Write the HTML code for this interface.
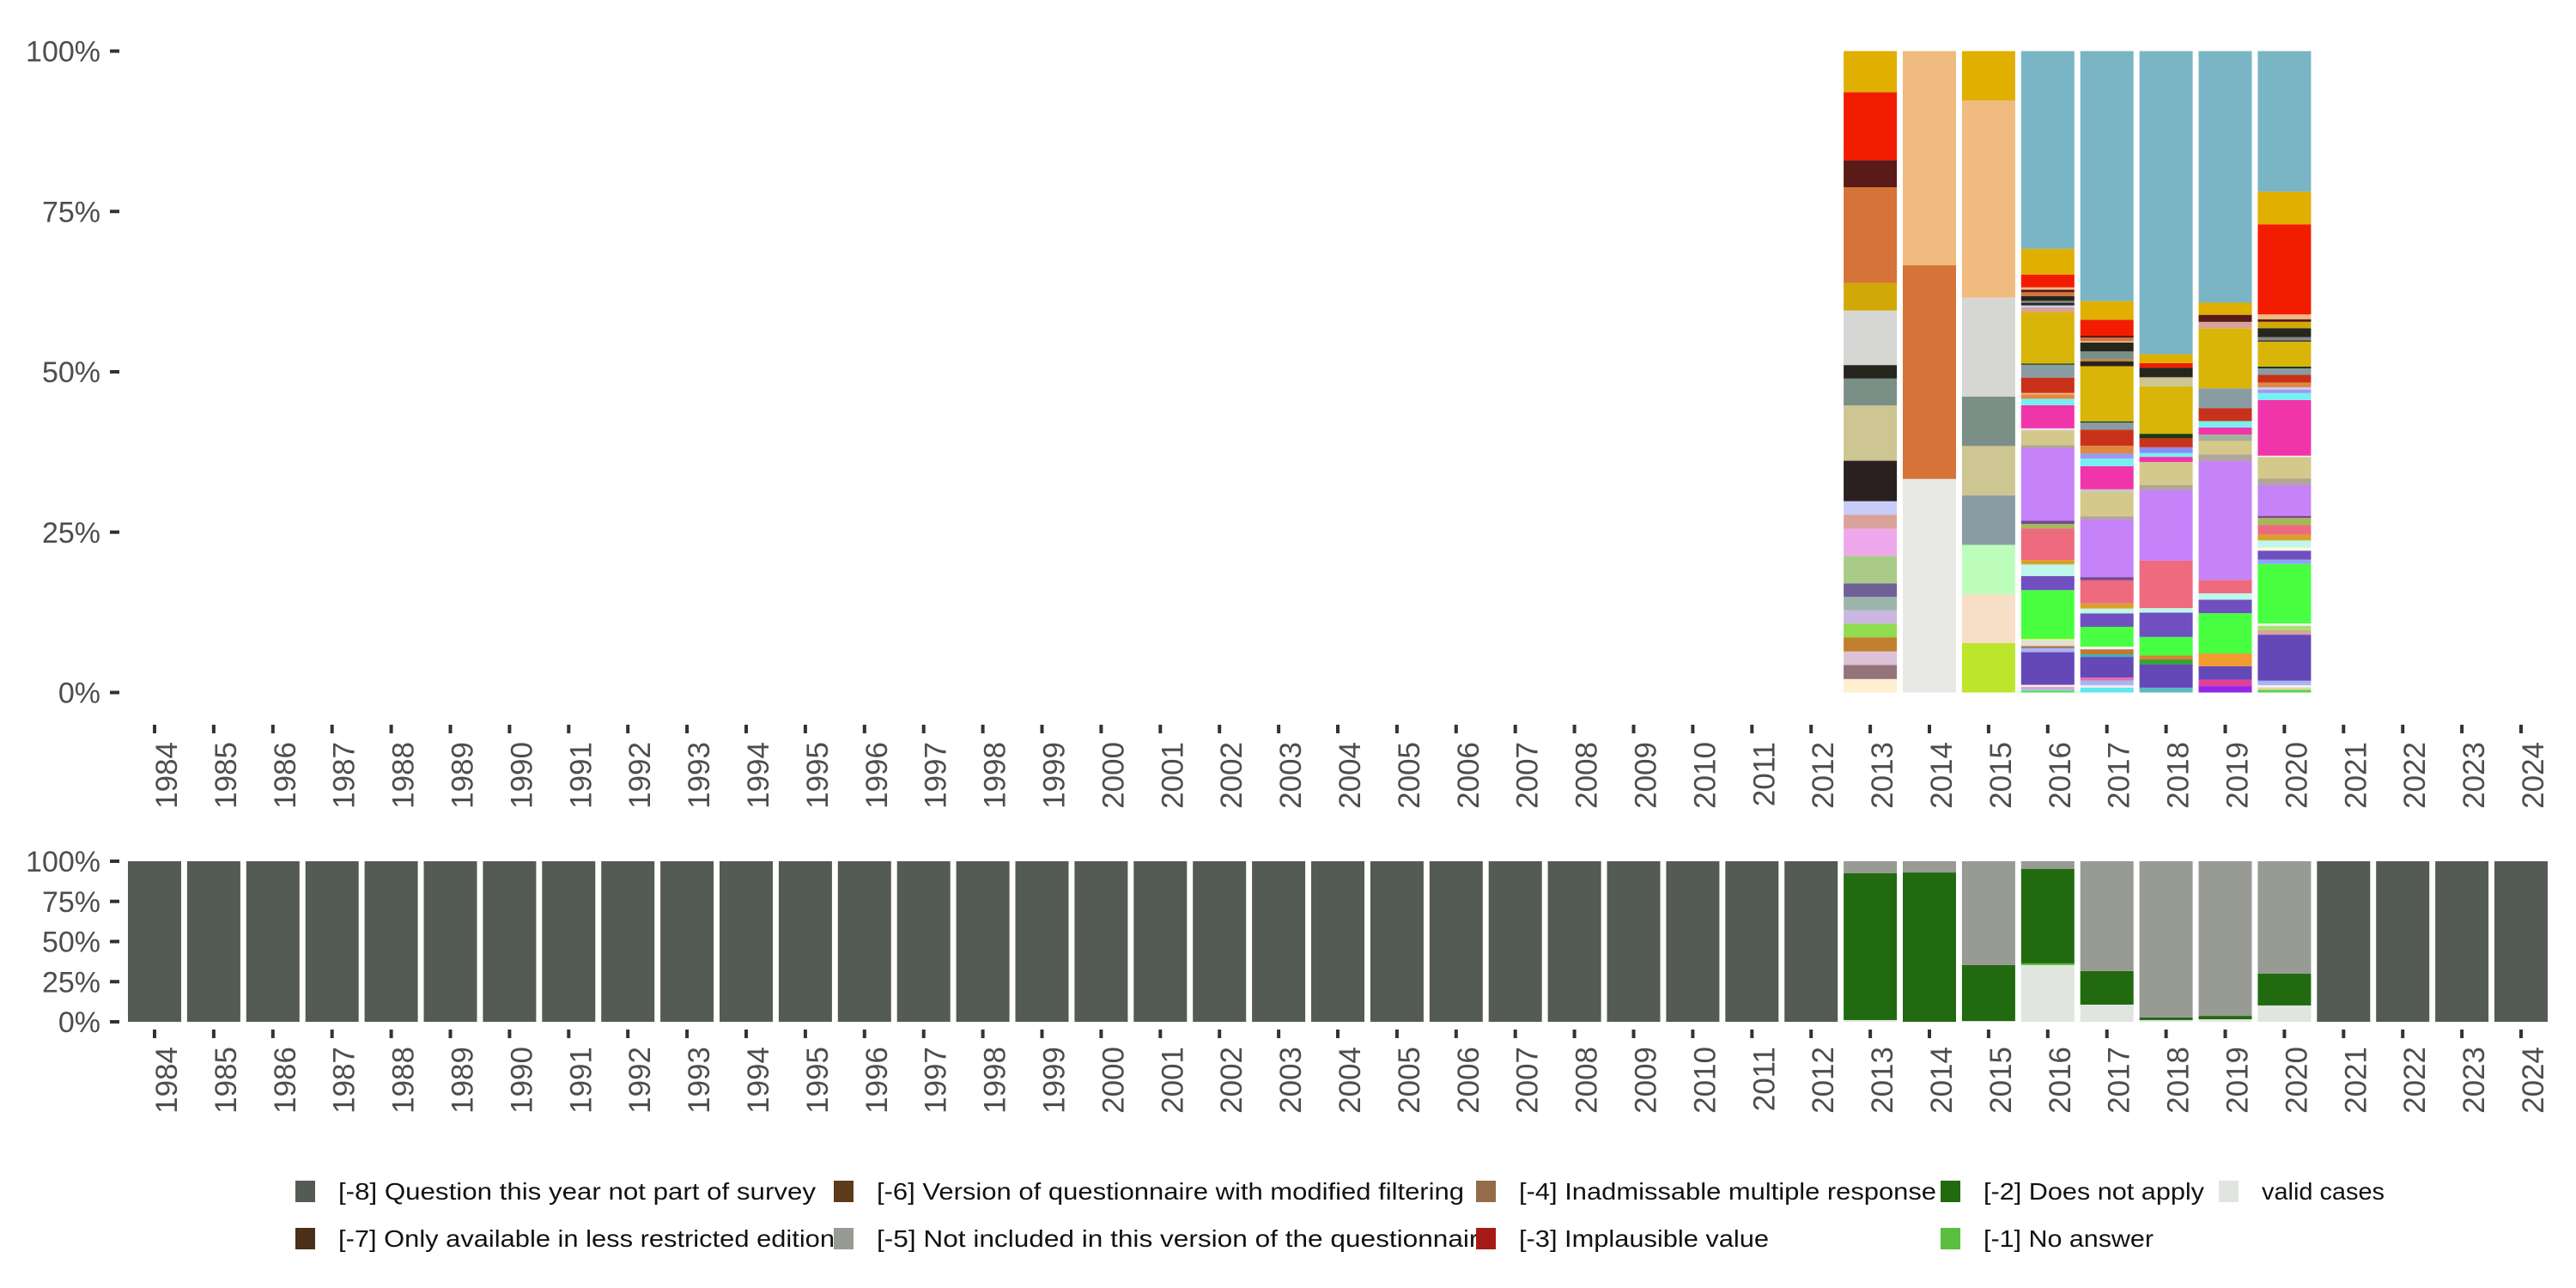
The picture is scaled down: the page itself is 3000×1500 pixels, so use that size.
<!DOCTYPE html>
<html><head><meta charset="utf-8"><title>Chart</title>
<style>html,body{margin:0;padding:0;background:#fff}svg{display:block}text{font-family:"Liberation Sans",sans-serif}</style>
</head><body>
<svg id="chart" width="3000" height="1500" viewBox="0 0 3000 1500" xmlns="http://www.w3.org/2000/svg">
<g id="top"></g>
<g id="bottom"></g>
<g id="legend"></g>
</svg>
<script>
const years = [];
for (let y = 1984; y <= 2024; y++) years.push(y);
const yTickLabels = ["0%", "25%", "50%", "75%", "100%"];
const yTickValues = [0, 25, 50, 75, 100];

const topYears = [2013, 2014, 2015, 2016, 2017, 2018, 2019, 2020];
// values bottom-to-top (percent)
const vals2013 = [2.1,2.2,2.1,2.2,2.1,2.1,2.1,2.1,4.3,4.2,2.2,2.1,6.3,8.6,4.2,2.1,8.5,4.3,14.9,4.2,10.6,6.4];
const cols2013 = ["#feefd1","#95737a","#dbc2d6","#c1802e","#91db50","#cbb8e2","#9bb5aa","#6f6096","#a9cb87","#eea8eb","#d9a39a","#c7cdf8","#2a2020","#cdc592","#7a8f86","#25271e","#d6d6d4","#d2a806","#d67338","#5a1a18","#f21d00","#e0af00"];
const vals2014 = [33.3,33.3,33.4];
const cols2014 = ["#e8e9e4","#d67338","#f0bb7f"];
const vals2015 = [7.7,7.6,7.7,7.7,7.7,7.7,15.4,30.7,7.7];
const cols2015 = ["#bde52c","#f7dec7","#bdfdbb","#899ca3","#cdc592","#7a8f86","#d6d6d4","#f0bb7f","#e0af00"];
const vals2016 = [0.3,0.3,0.3,0.3,5.1,0.6,0.35,0.9,0.2,7.6,2.2,1.8,0.7,4.9,0.7,0.5,11.3,0.5,2.3,0.3,3.6,1.0,0.7,0.2,2.4,2.0,0.2,8.0,0.75,0.3,0.4,0.3,0.75,0.6,0.4,0.35,2.0,4.0,30.8];
const cols2016 = ["#4be04a","#b0b8f0","#e8a0c0","#f0f0f0","#6548b8","#a5b5f5","#b07050","#e0e0d8","#f0f060","#48ff42","#704fc0","#bff7ea","#d9a02a","#ee6a7e","#a4b85a","#7a4a8c","#c582f9","#b0a596","#d4c98a","#e8e0f8","#f035aa","#77eef2","#e08840","#f0bb7f","#c9321a","#899ca3","#1a3a10","#d9b509","#d9a39a","#c7cdf8","#25271e","#888888","#25271e","#d67338","#5a1a18","#f0bb7f","#f21d00","#e0af00","#7ab5c5"];
const vals2017 = [0.75,0.4,0.7,0.5,3.2,0.4,0.8,0.4,3.1,2.1,0.75,0.8,3.6,0.5,9.0,0.5,3.7,0.5,3.6,1.2,0.8,1.2,2.5,1.1,0.2,8.6,0.75,0.35,1.2,1.4,0.2,0.55,0.3,2.5,2.9,39.0];
const cols2017 = ["#5ee8f0","#f0e8f0","#a5b5f5","#e070b0","#6548b8","#40b0b0","#c07838","#f4f4f4","#48ff42","#704fc0","#bff7ea","#d9a02a","#ee6a7e","#7a4a8c","#c582f9","#b0a596","#d4c98a","#c8c8c0","#f035aa","#77eef2","#9a9af0","#e08840","#c9321a","#899ca3","#1a3a10","#d9b509","#2a2020","#c1802e","#7a8f86","#25271e","#f0bb7f","#d67338","#5a1a18","#f21d00","#e0af00","#7ab5c5"];
const vals2018 = [0.75,3.6,0.8,0.6,2.9,3.8,0.7,7.4,11.0,0.75,3.6,0.8,0.6,0.9,1.4,0.7,7.4,1.4,1.5,0.7,1.4,47.2];
const cols2018 = ["#5abcc0","#6548b8","#3ca03a","#e08030","#48ff42","#704fc0","#bff7ea","#ee6a7e","#c582f9","#b0a596","#d4c98a","#f035aa","#77eef2","#8b8ef0","#c9321a","#1a3a10","#d9b509","#cdc592","#25271e","#f21d00","#e0af00","#7ab5c5"];
const vals2019 = [1.0,1.0,2.1,2.0,6.3,2.1,1.0,2.1,18.6,1.0,2.1,1.0,1.1,1.0,2.0,3.1,9.4,1.0,1.1,1.9,39.3];
const cols2019 = ["#9526e8","#e0409a","#6548b8","#f09a30","#48ff42","#704fc0","#bff7ea","#ee6a7e","#c582f9","#b0a596","#d4c98a","#a3b09b","#f035aa","#77eef2","#c9321a","#899ca3","#d9b509","#d9a39a","#5a1a18","#e0af00","#7ab5c5"];
const vals2020 = [0.4,0.4,0.35,0.7,7.2,0.7,0.7,0.35,9.3,0.7,1.4,0.5,1.1,0.9,1.5,1.1,0.35,4.8,1.0,3.4,0.2,8.7,1.1,0.55,0.35,0.75,1.2,1.0,0.3,3.9,0.2,0.5,1.4,1.0,0.4,0.75,14.1,5.1,22.0];
const cols2020 = ["#5cd04a","#e0d8a0","#f4f4f4","#a5b5f5","#6548b8","#d9a39a","#a8e070","#f4f4f4","#48ff42","#8fa5f5","#704fc0","#fdf6d8","#bff7ea","#d9a02a","#ee6a7e","#a4b85a","#7a4a8c","#c582f9","#b0a596","#d4c98a","#f4f4f4","#f035aa","#77eef2","#9a9af0","#c7cdf8","#e08840","#c9321a","#899ca3","#1a3a10","#d9b509","#25271e","#888888","#25271e","#d2a806","#5a1a18","#f0bb7f","#f21d00","#e0af00","#7ab5c5"];
const topVals = [vals2013, vals2014, vals2015, vals2016, vals2017, vals2018, vals2019, vals2020];
const topCols = [cols2013, cols2014, cols2015, cols2016, cols2017, cols2018, cols2019, cols2020];

// bottom panel: categories bottom-to-top: valid, [-1], [-2], [-5], [-8]
const bottomCats = ["valid cases", "[-1] No answer", "[-2] Does not apply", "[-5] Not included", "[-8] Not part of survey"];
const bottomColors = ["#e1e5e0", "#5abf3e", "#226a10", "#979b94", "#545b55"];
const specialYears = [2013, 2014, 2015, 2016, 2017, 2018, 2019, 2020];
const validVals = [1.1, 0, 0.5, 35.3, 10.7, 1.1, 1.6, 10.2];
const noAnswerVals = [0, 0, 0, 1.1, 0, 0, 0, 0];
const notApplyVals = [91.4, 93.0, 34.8, 58.8, 20.9, 1.6, 2.1, 19.8];
const notIncludedVals = [7.5, 7.0, 64.7, 4.8, 68.4, 97.3, 96.3, 70.1];

const legendLabels = ["[-8] Question this year not part of survey","[-6] Version of questionnaire with modified filtering","[-4] Inadmissable multiple response","[-2] Does not apply","valid cases","[-7] Only available in less restricted edition","[-5] Not included in this version of the questionnaire","[-3] Implausible value","[-1] No answer"];
const legendColors = ["#545b55","#5c3a1a","#946c4a","#226a10","#e1e5e0","#4a3018","#979b94","#a61b17","#5abf3e"];

const NS = "http://www.w3.org/2000/svg";
function mk(tag, attrs, parent) { const e = document.createElementNS(NS, tag); for (const k in attrs) e.setAttribute(k, attrs[k]); parent.appendChild(e); return e; }
const x0 = 180, pitch = 68.9, bw = 62;
function xScale(year) { return x0 + (year - 1984) * pitch; }
function yTop(v) { return 806.5 - v / 100 * 747; }
function yBot(v) { return 1190 - v / 100 * 187; }

function axes(g, yFn, tickY1, labelY) {
  yTickValues.forEach((v, i) => {
    const t = mk("rect", {x:128, y:yFn(v)-2, width:11, height:4, fill:"#333"}, g);
    
    
    const l = mk("text", {x:117, y:yFn(v)+12, "text-anchor":"end", "font-size":34, fill:"#4d4d4d"}, g);
    l.textContent = yTickLabels[i];
    
    
  });
  years.forEach(yr => {
    const x = xScale(yr);
    const t = mk("rect", {x:x-2, y:tickY1, width:4, height:10, fill:"#333"}, g);
    
    
    const l = mk("text", {x:0, y:0, "text-anchor":"end", "font-size":35, fill:"#4d4d4d", transform:`translate(${x+26},${labelY}) rotate(-90)`}, g);
    l.textContent = String(yr);
    
    
  });
}

const gTop = document.getElementById("top");
axes(gTop, yTop, 844, 864);
topYears.forEach((yr, i) => {
  const vals = topVals[i], cols = topCols[i];
  const total = vals.reduce((a, b) => a + b, 0);
  let acc = 0;
  vals.forEach((v, j) => {
    const p0 = acc / total * 100; acc += v; const p1 = acc / total * 100;
    const r = mk("rect", {x:xScale(yr)-bw/2, y:yTop(p1), width:bw, height:yTop(p0)-yTop(p1), fill:cols[j]}, gTop);
    
    
  });
});

const gBot = document.getElementById("bottom");
axes(gBot, yBot, 1199, 1219);
years.forEach(yr => {
  const k = specialYears.indexOf(yr);
  const parts = k < 0 ? [0, 0, 0, 0, 100] : [validVals[k], noAnswerVals[k], notApplyVals[k], notIncludedVals[k], 0];
  const total = parts.reduce((a, b) => a + b, 0);
  let acc = 0;
  parts.forEach((v, j) => {
    if (v <= 0) return;
    const p0 = acc / total * 100; acc += v; const p1 = acc / total * 100;
    const r = mk("rect", {x:xScale(yr)-bw/2, y:yBot(p1), width:bw, height:yBot(p0)-yBot(p1), fill:bottomColors[j]}, gBot);
    
    
  });
});

const gL = document.getElementById("legend");
const keyX = [344, 971, 1719, 2260, 2584];
const textW = [556, 684, 486, 257, 143, 578, 718, 291, 198];
legendLabels.forEach((lab, i) => {
  const col = i < 5 ? i : i - 5, row = i < 5 ? 0 : 1;
  const ky = row === 0 ? 1375 : 1430;
  const k = mk("rect", {x:keyX[col], y:ky, width:23, height:25, fill:legendColors[i]}, gL);
  
  
  const t = mk("text", {x:keyX[col]+50, y:ky+22, "font-size":28, fill:"#111", textLength:textW[i], lengthAdjust:"spacingAndGlyphs"}, gL);
  t.textContent = lab;
  
  
});
</script>
</body></html>
